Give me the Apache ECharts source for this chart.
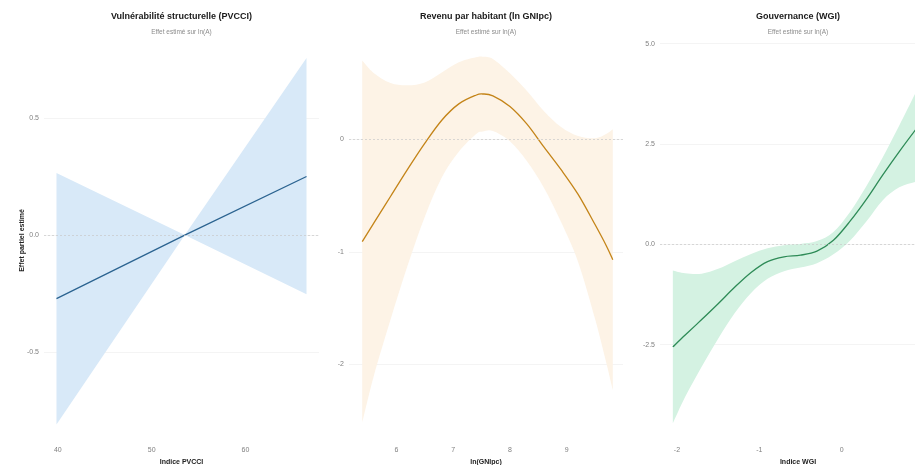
<!DOCTYPE html>
<html><head><meta charset="utf-8">
<script src="https://cdn.jsdelivr.net/npm/echarts@6/dist/echarts.min.js"></script>
<style>html,body{margin:0;padding:0;background:#fff}#c{width:915px;height:465px}</style>
</head><body><div id="c"></div>
<script>
// ---- Data ----
const pvcciX   = [39.86, 53.53, 66.5];
const pvcciFit = [-0.271, 0, 0.25];
const pvcciLo  = [-0.808, 0, -0.252];
const pvcciHi  = [0.265, 0, 0.756];

const gniX   = [5.40, 5.6, 5.9, 6.2, 6.5, 6.8, 7.1, 7.4, 7.52, 7.7, 8.0, 8.3, 8.6, 8.9, 9.2, 9.5, 9.7, 9.81];
const gniFit = [-0.91, -0.747, -0.506, -0.265, -0.036, 0.17, 0.315, 0.392, 0.403, 0.387, 0.292, 0.135, -0.07, -0.27, -0.49, -0.76, -0.95, -1.07];
const gniLo  = [-2.52, -2.11, -1.60, -1.12, -0.69, -0.34, -0.11, 0.045, 0.07, 0.075, -0.017, -0.195, -0.432, -0.735, -1.09, -1.60, -1.995, -2.23];
const gniHi  = [0.70, 0.59, 0.50, 0.48, 0.505, 0.595, 0.685, 0.73, 0.735, 0.715, 0.588, 0.43, 0.25, 0.11, 0.03, 0.01, 0.05, 0.09];

const wgiX   = [-2.05, -1.9, -1.7, -1.5, -1.3, -1.1, -0.9, -0.7, -0.5, -0.3, -0.1, 0.1, 0.3, 0.5, 0.7, 0.9, 1.0];
const wgiFit = [-2.555, -2.26, -1.875, -1.48, -1.07, -0.70, -0.43, -0.31, -0.27, -0.17, 0.10, 0.57, 1.12, 1.73, 2.31, 2.86, 3.12];
const wgiLo  = [-4.46, -3.80, -3.05, -2.35, -1.72, -1.21, -0.86, -0.67, -0.58, -0.47, -0.25, 0.09, 0.57, 1.10, 1.42, 1.56, 1.60];
const wgiHi  = [-0.65, -0.72, -0.73, -0.61, -0.42, -0.24, -0.10, -0.02, 0.01, 0.08, 0.31, 0.80, 1.45, 2.17, 2.96, 3.78, 4.20];

const panelTitles = ['Vulnérabilité structurelle (PVCCI)', 'Revenu par habitant (ln GNIpc)', 'Gouvernance (WGI)'];
const panelSubtitle = 'Effet estimé sur ln(A)';
const xNames = ['Indice PVCCI', 'ln(GNIpc)', 'Indice WGI'];
const yName = 'Effet partiel estimé';

// ---- Styling / layout ----
const FONT = "'Liberation Sans', Arial, sans-serif";
const grids = [
  {left: 44, top: 39, width: 275, height: 403, outerBoundsMode: 'none', containLabel: false},
  {left: 349, top: 39, width: 274, height: 403, outerBoundsMode: 'none', containLabel: false},
  {left: 660, top: 39, width: 276, height: 406, outerBoundsMode: 'none', containLabel: false}
];
const xAxisOffsets = [0, 0, -3];
const xRanges = [[38.53, 67.83], [5.167, 9.99], [-2.206, 1.146]];
const yRanges = [[-0.883, 0.837], [-2.691, 0.892], [-5, 5.116]];
const bandColors = ['#d8e9f8', '#fdf3e6', '#d4f2e2'];
const lineColors = ['#2b6390', '#c48418', '#2e8b57'];
const smoothFlags = [false, true, true];
const panels = [
  {x: pvcciX, fit: pvcciFit, lo: pvcciLo, hi: pvcciHi},
  {x: gniX, fit: gniFit, lo: gniLo, hi: gniHi},
  {x: wgiX, fit: wgiFit, lo: wgiLo, hi: wgiHi}
];

// path through pixel points (Catmull-Rom style curve when smooth)
function pathThrough(pts, smooth, start) {
  let d = (start ? 'M' : 'L') + pts[0][0] + ',' + pts[0][1];
  for (let k = 0; k < pts.length - 1; k++) {
    const p1 = pts[k], p2 = pts[k + 1];
    if (!smooth) { d += ' L' + p2[0] + ',' + p2[1]; continue; }
    const p0 = pts[k - 1] || p1, p3 = pts[k + 2] || p2;
    const c1x = p1[0] + (p2[0] - p0[0]) / 6, c1y = p1[1] + (p2[1] - p0[1]) / 6;
    const c2x = p2[0] - (p3[0] - p1[0]) / 6, c2y = p2[1] - (p3[1] - p1[1]) / 6;
    d += ' C' + c1x + ',' + c1y + ' ' + c2x + ',' + c2y + ' ' + p2[0] + ',' + p2[1];
  }
  return d;
}

const labelStyle = {fontFamily: FONT, fontSize: 7, color: '#808080'};
const xAxes = [], yAxes = [], series = [], graphics = [];

panels.forEach((p, i) => {
  xAxes.push({
    type: 'value', gridIndex: i, min: xRanges[i][0], max: xRanges[i][1],
    splitNumber: i === 1 ? 4 : 3, offset: xAxisOffsets[i],
    axisLine: {show: false}, axisTick: {show: false}, splitLine: {show: false},
    axisLabel: Object.assign({margin: 5, showMinLabel: false, showMaxLabel: false,
      formatter: v => String(Math.round(v))}, labelStyle),
    name: xNames[i], nameLocation: 'middle', nameGap: 13,
    nameTextStyle: {fontFamily: FONT, fontSize: 7, fontWeight: 'bold', color: '#222'}
  });
  const y = {
    type: 'value', gridIndex: i, min: yRanges[i][0], max: yRanges[i][1],
    axisLine: {show: false}, axisTick: {show: false},
    splitLine: {show: true, showMinLine: false, showMaxLine: false, lineStyle: {color: '#ececec', width: 0.6}},
    axisLabel: Object.assign({margin: 5, showMinLabel: false, showMaxLabel: false,
      formatter: v => i === 1 ? String(Math.round(v)) : v.toFixed(1)}, labelStyle)
  };
  if (i === 2) { y.interval = 2.5; } else { y.splitNumber = 3; }
  if (i === 0) {
    y.name = yName; y.nameLocation = 'middle'; y.nameRotate = 90; y.nameGap = 18;
    y.nameMoveOverlap = false;
    y.nameTextStyle = {fontFamily: FONT, fontSize: 7, fontWeight: 'bold', color: '#222'};
  }
  yAxes.push(y);

  // confidence band (polygon upper edge -> lower edge reversed)
  series.push({
    type: 'custom', xAxisIndex: i, yAxisIndex: i, clip: true, silent: true, z: 1,
    data: p.x.map((xv, k) => [xv, p.lo[k], p.hi[k]]),
    encode: {x: 0, y: [1, 2]},
    renderItem: function (params, api) {
      if (params.dataIndex !== 0) return null;
      const up = p.x.map((xv, k) => api.coord([xv, p.hi[k]]));
      const dn = p.x.map((xv, k) => api.coord([xv, p.lo[k]])).reverse();
      const d = pathThrough(up, smoothFlags[i], true) + ' ' + pathThrough(dn, smoothFlags[i], false) + ' Z';
      return {type: 'path', shape: {pathData: d}, style: {fill: bandColors[i]}};
    }
  });
  // zero reference line
  series.push({
    type: 'line', xAxisIndex: i, yAxisIndex: i, data: [], silent: true, z: 2,
    markLine: {
      silent: true, symbol: 'none', label: {show: false},
      lineStyle: {color: '#c8c8c8', type: [2, 2], width: 0.7},
      data: [{yAxis: 0}]
    }
  });
  // fitted effect
  series.push({
    type: 'custom', xAxisIndex: i, yAxisIndex: i, clip: true, silent: true, z: 4,
    data: p.x.map((xv, k) => [xv, p.fit[k]]),
    encode: {x: 0, y: 1},
    renderItem: function (params, api) {
      if (params.dataIndex !== 0) return null;
      const pts = p.x.map((xv, k) => api.coord([xv, p.fit[k]]));
      return {type: 'path', shape: {pathData: pathThrough(pts, smoothFlags[i], true)},
        style: {fill: null, stroke: lineColors[i], lineWidth: 1.3}};
    }
  });

  const cx = grids[i].left + grids[i].width / 2;
  graphics.push({type: 'text', x: cx, y: 17, style: {text: panelTitles[i], align: 'center', verticalAlign: 'middle',
    textAlign: 'center', textVerticalAlign: 'middle', fontFamily: FONT, fontSize: 9, fontWeight: 'bold', fill: '#1a1a1a'}});
  graphics.push({type: 'text', x: cx, y: 32, style: {text: panelSubtitle, align: 'center', verticalAlign: 'middle',
    textAlign: 'center', textVerticalAlign: 'middle', fontFamily: FONT, fontSize: 6.5, fill: '#8c8c8c'}});
});

const chart = echarts.init(document.getElementById('c'), null, {renderer: 'canvas'});
chart.setOption({
  animation: false,
  backgroundColor: '#fff',
  grid: grids,
  xAxis: xAxes,
  yAxis: yAxes,
  series: series,
  graphic: graphics
});
</script>
</body></html>
